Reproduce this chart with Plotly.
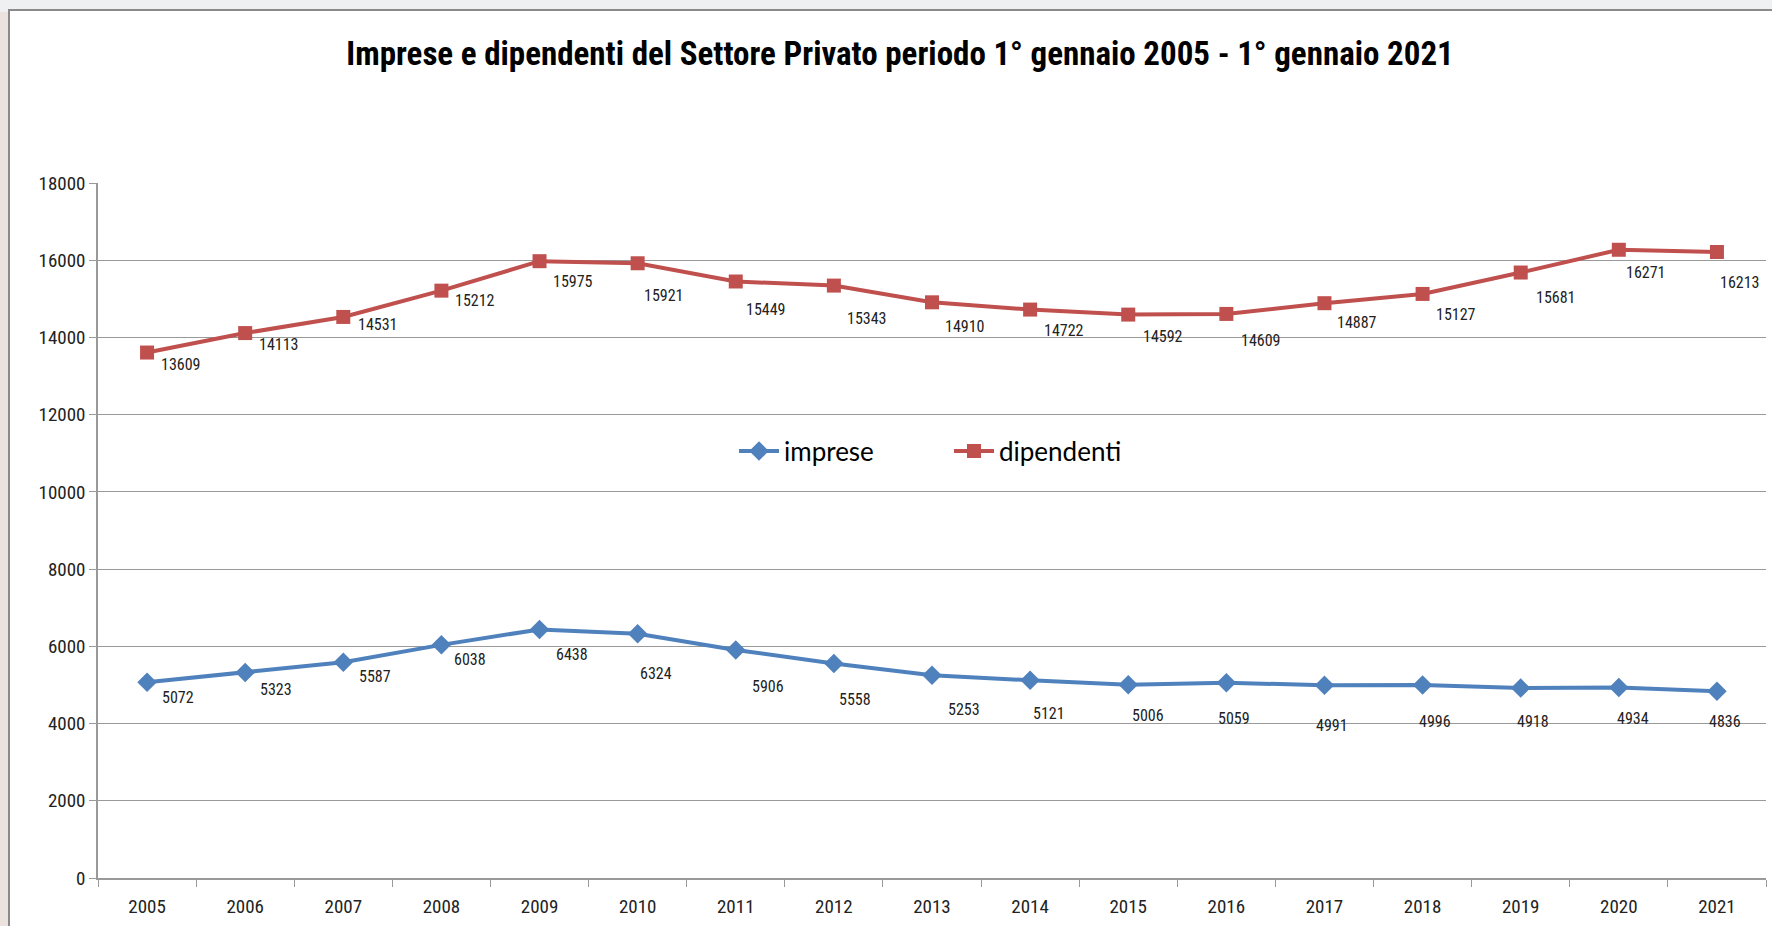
import plotly.graph_objects as go

anni = ["2005", "2006", "2007", "2008", "2009", "2010", "2011", "2012", "2013",
        "2014", "2015", "2016", "2017", "2018", "2019", "2020", "2021"]
imprese = [5072, 5323, 5587, 6038, 6438, 6324, 5906, 5558, 5253, 5121, 5006,
           5059, 4991, 4996, 4918, 4934, 4836]
dipendenti = [13609, 14113, 14531, 15212, 15975, 15921, 15449, 15343, 14910,
              14722, 14592, 14609, 14887, 15127, 15681, 16271, 16213]
y_ticks = [0, 2000, 4000, 6000, 8000, 10000, 12000, 14000, 16000, 18000]

# label offsets (pixels) as placed in the original chart
dip_dx = [34, 34, 35, 34, 33, 26, 30, 33, 33, 34, 35, 35, 33, 33, 35, 27, 23]
dip_dy = [12, 11, 8, 10, 20, 32, 28, 33, 24, 21, 22, 27, 19, 21, 25, 23, 30]
imp_dx = [31, 31, 32, 29, 32, 18, 32, 21, 32, 19, 20, 8, 8, 12, 12, 14, 8]
imp_dy = [15, 17, 14, 15, 25, 40, 37, 36, 34, 33, 31, 36, 40, 36, 33, 31, 30]

BLUE = "#4F81BD"
RED = "#C0504D"
NARROW = "Liberation Sans Narrow, Roboto Condensed, Arial Narrow, sans-serif"

fig = go.Figure()
fig.add_trace(go.Scatter(
    x=anni, y=imprese, name="imprese", mode="lines+markers",
    line=dict(color=BLUE, width=4),
    marker=dict(symbol="diamond", size=15, color=BLUE),
))
fig.add_trace(go.Scatter(
    x=anni, y=dipendenti, name="dipendenti", mode="lines+markers",
    line=dict(color=RED, width=4),
    marker=dict(symbol="square", size=14, color=RED),
))

annotations = []
for i, (v, dx, dy) in enumerate(zip(dipendenti, dip_dx, dip_dy)):
    annotations.append(dict(x=i, y=v, xref="x", yref="y", text=str(v),
                            showarrow=False, xshift=dx, yshift=-dy,
                            font=dict(family=NARROW, size=16, color="#222222")))
for i, (v, dx, dy) in enumerate(zip(imprese, imp_dx, imp_dy)):
    annotations.append(dict(x=i, y=v, xref="x", yref="y", text=str(v),
                            showarrow=False, xshift=dx, yshift=-dy,
                            font=dict(family=NARROW, size=16, color="#222222")))

# plot area: x 98..1766, y 183..878 (px)
L, R, T, B = 98, 1766, 183, 878
W, H = R - L, B - T
def px(x):
    return (x - L) / W
def py(y):
    return (B - y) / H

shapes = [
    # white chart frame with gray border
    dict(type="rect", xref="paper", yref="paper", layer="below",
         x0=px(9), x1=px(1800), y0=py(10), y1=py(960),
         fillcolor="white", line=dict(color="#8a8a8a", width=2)),
    # left background strip
    dict(type="rect", xref="paper", yref="paper", layer="below",
         x0=px(-5), x1=px(8), y0=py(12), y1=py(960),
         fillcolor="#ece2de", line=dict(width=0)),
]

fig.update_layout(
    width=1772, height=926,
    margin=dict(l=L, r=1772 - R, t=T, b=926 - B, autoexpand=False),
    paper_bgcolor="#eff0f2",
    plot_bgcolor="rgba(0,0,0,0)",
    title=dict(
        text="<b>Imprese e dipendenti del Settore Privato periodo 1° gennaio 2005 - 1° gennaio 2021</b>",
        x=900 / 1772, xanchor="center", xref="container",
        y=1 - 53 / 926, yanchor="middle", yref="container",
        font=dict(family=NARROW, size=33, color="#000000"),
    ),
    showlegend=True,
    legend=dict(
        orientation="h", x=px(734), xanchor="left", y=py(451), yanchor="middle",
        font=dict(family="Lato, Open Sans, sans-serif", size=26, color="#000000"),
        bgcolor="rgba(0,0,0,0)", entrywidth=160, itemwidth=40,
    ),
    xaxis=dict(
        type="category", range=[-0.5, 16.5], tickson="boundaries",
        ticks="outside", ticklen=7, tickcolor="#999999",
        showline=True, linecolor="#999999", linewidth=1.5,
        showgrid=False, zeroline=False, ticklabelstandoff=10,
        tickfont=dict(family=NARROW, size=19, color="#222222"),
    ),
    yaxis=dict(
        range=[0, 18000], tickvals=y_ticks, tickformat="d",
        ticks="outside", ticklen=7, tickcolor="#999999",
        showline=True, linecolor="#999999", linewidth=1.5,
        showgrid=True, gridcolor="#9a9a9a", gridwidth=1.2,
        zeroline=False,
        tickfont=dict(family=NARROW, size=19, color="#222222"),
    ),
    annotations=annotations,
    shapes=shapes,
)

fig.write_html("out.html", config={"displayModeBar": False},
               post_script="document.body.style.margin='0';")
